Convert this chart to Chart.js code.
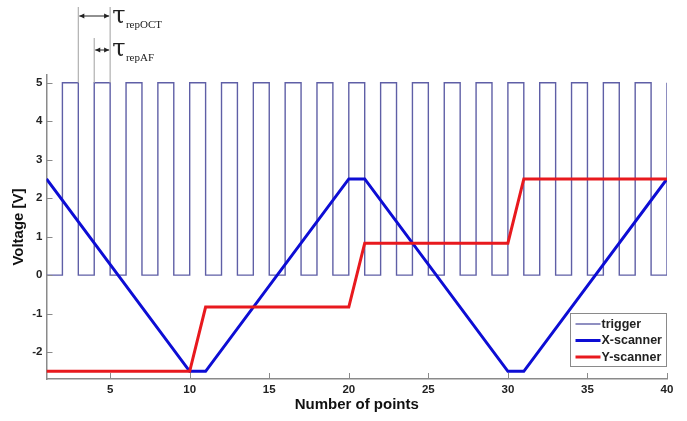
<!DOCTYPE html>
<html lang="en">
<head>
  <meta charset="UTF-8">
  <title>Scanner and trigger voltages</title>
  <script src="https://cdn.jsdelivr.net/npm/chart.js"></script>
  <style>
    html, body { margin: 0; padding: 0; background: #fff; }
    .chart-container { position: relative; width: 687px; height: 421px; }
  </style>
</head>
<body>
  <div class="chart-container">
    <canvas id="scanChart"></canvas>
  </div>

  <script>
    // trigger pulses: each rises at one of these points and stays high for one point
    const pulseStarts = [2, 4, 6, 8, 10, 12, 14, 16, 18, 20, 22, 24, 26, 28, 30, 32, 34, 36, 38, 40];
    const triggerLow = 0;
    const triggerHigh = 5;

    // X-scanner ramp corners
    const xScanPoints = [1, 10, 11, 20, 21, 30, 31, 40];
    const xScanValues = [2.5, -2.5, -2.5, 2.5, 2.5, -2.5, -2.5, 2.5];

    // Y-scanner step corners
    const yScanPoints = [1, 10, 11, 20, 21, 30, 31, 40];
    const yScanValues = [-2.5, -2.5, -0.83, -0.83, 0.83, 0.83, 2.5, 2.5];

    const xTicks = [5, 10, 15, 20, 25, 30, 35, 40];
    const yTicks = [-2, -1, 0, 1, 2, 3, 4, 5];
    const xRange = [1, 40];
    const yRange = [-2.7, 5.2];

    // build trigger square wave from the pulse list
    const triggerData = [{ x: xRange[0], y: triggerLow }];
    pulseStarts.forEach(s => {
      triggerData.push({ x: s, y: triggerLow }, { x: s, y: triggerHigh });
      if (s + 1 <= xRange[1]) {
        triggerData.push({ x: s + 1, y: triggerHigh }, { x: s + 1, y: triggerLow });
      }
    });

    const toPoints = (xs, ys) => xs.map((x, i) => ({ x: x, y: ys[i] }));

    const axisGray = '#8a8a8a';

    // inner tick marks, MATLAB style
    const innerTicks = {
      id: 'innerTicks',
      afterDraw(chart) {
        const { ctx, chartArea, scales } = chart;
        ctx.save();
        ctx.strokeStyle = axisGray;
        ctx.lineWidth = 1;
        xTicks.forEach(v => {
          const px = Math.round(scales.x.getPixelForValue(v)) + 0.5;
          ctx.beginPath();
          ctx.moveTo(px, chartArea.bottom);
          ctx.lineTo(px, chartArea.bottom - 6);
          ctx.stroke();
        });
        yTicks.forEach(v => {
          const py = Math.round(scales.y.getPixelForValue(v)) + 0.5;
          ctx.beginPath();
          ctx.moveTo(chartArea.left, py);
          ctx.lineTo(chartArea.left + 6, py);
          ctx.stroke();
        });
        ctx.restore();
      }
    };

    // legend box in the lower right corner of the axes
    const boxLegend = {
      id: 'boxLegend',
      afterDraw(chart) {
        const { ctx, chartArea } = chart;
        const w = 96, h = 53;
        const right = chartArea.right - 0.5;
        const bottom = chartArea.bottom - 12.5;
        const left = right - w, top = bottom - h;
        ctx.save();
        ctx.fillStyle = '#fff';
        ctx.fillRect(left, top, w, h);
        ctx.strokeStyle = axisGray;
        ctx.lineWidth = 1;
        ctx.strokeRect(left, top, w, h);
        ctx.font = 'bold 12.5px "Liberation Sans", Arial, sans-serif';
        ctx.textBaseline = 'middle';
        ctx.fillStyle = '#222';
        chart.data.datasets.forEach((ds, i) => {
          const y = top + 10.5 + i * 16.5;
          ctx.strokeStyle = ds.borderColor;
          ctx.lineWidth = ds.borderWidth;
          ctx.beginPath();
          ctx.moveTo(left + 5, y);
          ctx.lineTo(left + 30, y);
          ctx.stroke();
          ctx.fillText(ds.label, left + 31, y + 0.5);
        });
        ctx.restore();
      }
    };

    // tau repetition markers above the plot
    const tauMarks = {
      id: 'tauMarks',
      afterDraw(chart) {
        const { ctx, scales } = chart;
        const xa = scales.x.getPixelForValue(3);
        const xb = scales.x.getPixelForValue(4);
        const xc = scales.x.getPixelForValue(5);
        const yTop = scales.y.getPixelForValue(5);
        ctx.save();
        ctx.strokeStyle = '#b0b0b0';
        ctx.lineWidth = 1.2;
        [[xa, 7], [xc, 7], [xb, 38]].forEach(([x, y0]) => {
          ctx.beginPath();
          ctx.moveTo(x, y0);
          ctx.lineTo(x, yTop);
          ctx.stroke();
        });
        const arrow = (x1, x2, y) => {
          ctx.strokeStyle = '#222';
          ctx.fillStyle = '#222';
          ctx.lineWidth = 1;
          ctx.beginPath();
          ctx.moveTo(x1 + 1, y);
          ctx.lineTo(x2 - 1, y);
          ctx.stroke();
          [[x1 + 1, 1], [x2 - 1, -1]].forEach(([x, d]) => {
            ctx.beginPath();
            ctx.moveTo(x, y);
            ctx.lineTo(x + d * 5, y - 2.5);
            ctx.lineTo(x + d * 5, y + 2.5);
            ctx.closePath();
            ctx.fill();
          });
        };
        arrow(xa, xc, 16);
        arrow(xb, xc, 50);
        const tau = (x, y, sub) => {
          ctx.fillStyle = '#222';
          ctx.textBaseline = 'alphabetic';
          ctx.font = '24px "DejaVu Serif", "Liberation Serif", serif';
          ctx.fillText('\u03C4', x, y);
          const tw = ctx.measureText('\u03C4').width;
          ctx.font = '11px "Liberation Serif", "Times New Roman", serif';
          ctx.fillText(sub, x + tw + 0.5, y + 5);
        };
        tau(xc + 2, 23, 'repOCT');
        tau(xc + 2, 56, 'repAF');
        ctx.restore();
      }
    };

    const tickFont = { family: '"Liberation Sans", Arial, sans-serif', size: 11.5, weight: 'bold' };

    new Chart(document.getElementById('scanChart').getContext('2d'), {
      type: 'line',
      data: {
        datasets: [
          {
            label: 'trigger',
            data: triggerData,
            borderColor: '#5f5fa6',
            borderWidth: 1.4,
            pointRadius: 0,
            tension: 0,
            order: 3
          },
          {
            label: 'X-scanner',
            data: toPoints(xScanPoints, xScanValues),
            borderColor: '#0d0dd4',
            borderWidth: 3,
            pointRadius: 0,
            tension: 0,
            order: 2
          },
          {
            label: 'Y-scanner',
            data: toPoints(yScanPoints, yScanValues),
            borderColor: '#e8191e',
            borderWidth: 3,
            pointRadius: 0,
            tension: 0,
            order: 1
          }
        ]
      },
      options: {
        responsive: true,
        maintainAspectRatio: false,
        animation: false,
        layout: { padding: { top: 75, right: 20, left: 0, bottom: 0 } },
        plugins: {
          legend: { display: false },
          tooltip: { enabled: false }
        },
        scales: {
          x: {
            type: 'linear',
            min: xRange[0],
            max: xRange[1],
            afterBuildTicks: scale => { scale.ticks = xTicks.map(v => ({ value: v })); },
            afterFit: scale => { scale.height = 42; },
            grid: { display: false, drawTicks: false },
            border: { display: true, color: axisGray, width: 1.5 },
            ticks: { color: '#222', font: tickFont, padding: 4, maxRotation: 0 },
            title: {
              display: true,
              text: 'Number of points',
              color: '#111',
              font: { family: '"Liberation Sans", Arial, sans-serif', size: 15, weight: 'bold' },
              padding: { top: 0, bottom: 7 }
            }
          },
          y: {
            type: 'linear',
            min: yRange[0],
            max: yRange[1],
            afterBuildTicks: scale => { scale.ticks = yTicks.map(v => ({ value: v })); },
            afterFit: scale => { scale.width = 46.5; },
            grid: { display: false, drawTicks: false },
            border: { display: true, color: axisGray, width: 1.5 },
            ticks: { color: '#222', font: tickFont, padding: 4 },
            title: {
              display: true,
              text: 'Voltage [V]',
              color: '#111',
              font: { family: '"Liberation Sans", Arial, sans-serif', size: 15, weight: 'bold' },
              padding: { top: 10, bottom: 0 }
            }
          }
        }
      },
      plugins: [innerTicks, boxLegend, tauMarks]
    });
  </script>
</body>
</html>
